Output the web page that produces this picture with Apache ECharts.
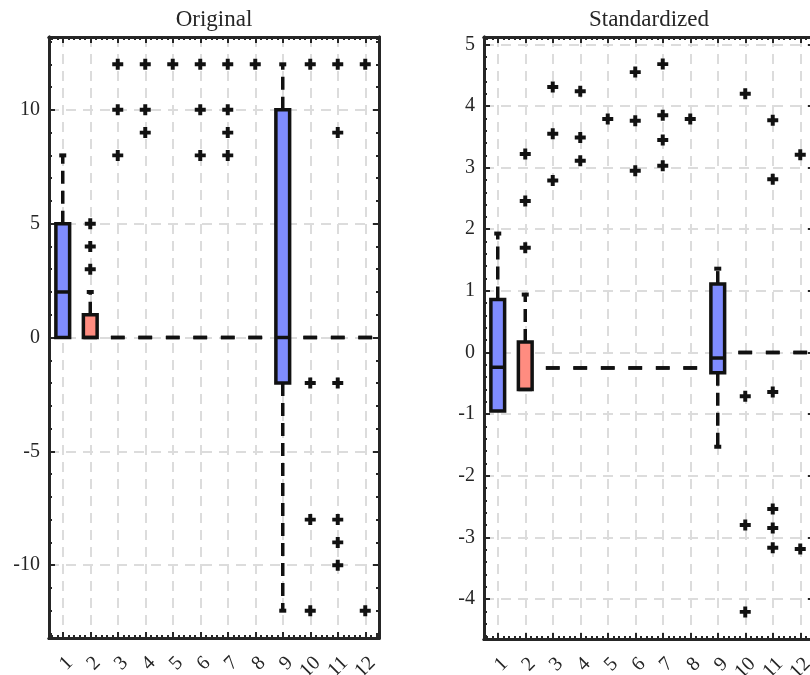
<!DOCTYPE html>
<html>
<head>
<meta charset="utf-8">
<script src="https://cdn.jsdelivr.net/npm/echarts@6/dist/echarts.min.js"></script>
<style>
  html, body { margin: 0; padding: 0; overflow: hidden; background: #fff; }
  #chart { width: 830px; height: 675px; }
</style>
</head>
<body>
<div id="chart"></div>
<script>
const categories = [1, 2, 3, 4, 5, 6, 7, 8, 9, 10, 11, 12]

// "Original" panel: whisker ends, quartiles, medians and outliers per column
const origLow    = [0, 0, 0, 0, 0, 0, 0, 0, -12, 0, 0, 0]
const origQ1     = [0, 0, 0, 0, 0, 0, 0, 0, -2, 0, 0, 0]
const origMedian = [2, 0, 0, 0, 0, 0, 0, 0, 0, 0, 0, 0]
const origQ3     = [5, 1, 0, 0, 0, 0, 0, 0, 10, 0, 0, 0]
const origHigh   = [8, 2, 0, 0, 0, 0, 0, 0, 12, 0, 0, 0]
const origOutliers = [
  [], [3, 4, 5], [8, 10, 12], [9, 10, 12], [12], [8, 10, 12],
  [8, 9, 10, 12], [12], [], [12, -2, -8, -12], [12, 9, -2, -8, -9, -10], [12, -12]
]

// "Standardized" panel
const stdLow    = [-0.95, -0.60, -0.25, -0.25, -0.25, -0.25, -0.25, -0.25, -1.53, 0, 0, 0]
const stdQ1     = [-0.95, -0.60, -0.25, -0.25, -0.25, -0.25, -0.25, -0.25, -0.33, 0, 0, 0]
const stdMedian = [-0.24, -0.60, -0.25, -0.25, -0.25, -0.25, -0.25, -0.25, -0.09, 0, 0, 0]
const stdQ3     = [0.86, 0.17, -0.25, -0.25, -0.25, -0.25, -0.25, -0.25, 1.11, 0, 0, 0]
const stdHigh   = [1.93, 0.94, -0.25, -0.25, -0.25, -0.25, -0.25, -0.25, 1.36, 0, 0, 0]
const stdOutliers = [
  [], [1.70, 2.46, 3.22], [2.79, 3.55, 4.31], [3.11, 3.49, 4.24], [3.79], [2.95, 3.76, 4.55],
  [3.03, 3.45, 3.85, 4.68], [3.79], [], [4.20, -0.71, -2.80, -4.21],
  [3.77, 2.81, -0.64, -2.54, -2.85, -3.17], [3.21, -3.19]
]

const origYTicks = [-10, -5, 0, 5, 10]
const stdYTicks = [-4, -3, -2, -1, 0, 1, 2, 3, 4, 5]

const FONT = "'Liberation Serif', 'DejaVu Serif', serif"
const AXIS = '#262626'
const GRID = '#dcdcdc'
const BLUE = '#7f8cff'
const RED = '#ff8c80'
const BOX_WIDTH = 0.5

function steps (from, to, step, skip) {
  const out = []
  for (let v = from; v <= to + 1e-9; v += step) {
    const r = Math.round(v * 10) / 10
    if (!skip(r)) out.push(r)
  }
  return out
}

const xMinor = steps(0.6, 12.4, 0.2, v => Number.isInteger(v))
const origYMinor = steps(-13, 13, 1, v => v % 5 === 0)
const stdYMinor = steps(-4.6, 5.0, 0.2, v => Number.isInteger(v))
// rotated labels are split over two axes so that ECharts does not drop overlapping neighbours
const oddLabels = categories.filter(c => c % 2 === 1)
const evenLabels = categories.filter(c => c % 2 === 0)

function renderBox (params, api) {
  const x = api.value(0)
  const lo = api.value(1), q1 = api.value(2), med = api.value(3), q3 = api.value(4), hi = api.value(5)
  const half = api.size([BOX_WIDTH, 0])[0] / 2
  const pLo = api.coord([x, lo]), pQ1 = api.coord([x, q1]), pMed = api.coord([x, med])
  const pQ3 = api.coord([x, q3]), pHi = api.coord([x, hi])
  const cx = pQ1[0]
  const whisker = { stroke: '#111', lineWidth: 3.5, lineDash: [13, 7] }
  const cap = { stroke: '#111', lineWidth: 4 }
  const children = []
  if (hi > q3) {
    children.push({ type: 'line', shape: { x1: cx, y1: pQ3[1], x2: cx, y2: pHi[1] }, style: whisker })
    children.push({ type: 'line', shape: { x1: cx - 3.5, y1: pHi[1], x2: cx + 3.5, y2: pHi[1] }, style: cap })
  }
  if (lo < q1) {
    children.push({ type: 'line', shape: { x1: cx, y1: pQ1[1], x2: cx, y2: pLo[1] }, style: whisker })
    children.push({ type: 'line', shape: { x1: cx - 3.5, y1: pLo[1], x2: cx + 3.5, y2: pLo[1] }, style: cap })
  }
  children.push({
    type: 'rect',
    shape: { x: cx - half, y: pQ3[1], width: half * 2, height: pQ1[1] - pQ3[1] },
    style: { fill: params.dataIndex === 1 ? RED : BLUE, stroke: '#111', lineWidth: 3.5 }
  })
  children.push({
    type: 'line',
    shape: { x1: cx - half, y1: pMed[1], x2: cx + half, y2: pMed[1] },
    style: { stroke: '#111', lineWidth: 3.5 }
  })
  return { type: 'group', children }
}

function xLabel (values) {
  return {
    customValues: values, rotate: 45, align: 'right', verticalAlign: 'top',
    margin: 15, fontFamily: FONT, fontSize: 20, color: AXIS,
    showMinLabel: true, showMaxLabel: true, hideOverlap: false
  }
}

function xAxes (gridIndex, title) {
  const base = {
    gridIndex, type: 'value', min: 0.5, max: 12.5,
    axisLine: { onZero: false, lineStyle: { color: AXIS, width: 3 } },
    splitLine: { show: false },
    axisLabel: { show: false }
  }
  return [
    Object.assign({}, base, {
      position: 'bottom',
      axisTick: { inside: true, length: 6, customValues: categories, lineStyle: { color: AXIS, width: 2 } },
      axisLabel: xLabel(oddLabels),
      splitLine: { show: true, lineStyle: { color: GRID, width: 2, type: [10, 7] } }
    }),
    Object.assign({}, base, {
      position: 'bottom',
      axisTick: { inside: true, length: 3, customValues: xMinor, lineStyle: { color: AXIS, width: 2 } },
      axisLabel: xLabel(evenLabels)
    }),
    Object.assign({}, base, {
      position: 'top',
      name: title, nameLocation: 'middle', nameGap: 6,
      nameTextStyle: { fontFamily: FONT, fontSize: 23, color: AXIS },
      axisTick: { inside: true, length: 6, customValues: categories, lineStyle: { color: AXIS, width: 2 } }
    }),
    Object.assign({}, base, {
      position: 'top',
      axisTick: { inside: true, length: 3, customValues: xMinor, lineStyle: { color: AXIS, width: 2 } }
    })
  ]
}

function yAxes (gridIndex, min, max, major, minor) {
  const base = {
    gridIndex, type: 'value', min, max,
    axisLine: { show: true, onZero: false, lineStyle: { color: AXIS, width: 3 } },
    splitLine: { show: false },
    axisLabel: { show: false }
  }
  const tick = (len, values) => ({ inside: true, length: len, customValues: values, lineStyle: { color: AXIS, width: 2 } })
  return [
    Object.assign({}, base, {
      position: 'left',
      axisTick: tick(6, major),
      axisLabel: { customValues: major, margin: 9, fontFamily: FONT, fontSize: 20, color: AXIS },
      splitLine: { show: true, lineStyle: { color: GRID, width: 2, type: [10, 7] } }
    }),
    Object.assign({}, base, { position: 'left', axisTick: tick(3, minor) }),
    Object.assign({}, base, { position: 'right', axisTick: tick(6, major) }),
    Object.assign({}, base, { position: 'right', axisTick: tick(3, minor) })
  ]
}

function boxData (low, q1, median, q3, high) {
  return categories.map((c, i) => [c, low[i], q1[i], median[i], q3[i], high[i]])
}

function outlierData (outliers) {
  return outliers.flatMap((vals, i) => vals.map(v => [categories[i], v]))
}

const PLUS = 'path://M3.2,0H6.8V3.2H10V6.8H6.8V10H3.2V6.8H0V3.2H3.2Z'

const chart = echarts.init(document.getElementById('chart'))
chart.setOption({
  animation: false,
  backgroundColor: '#fff',
  grid: [
    { left: 49, top: 37, width: 330, height: 601, outerBoundsMode: 'none', containLabel: false },
    { left: 484, top: 37, width: 330, height: 602, outerBoundsMode: 'none', containLabel: false }
  ],
  xAxis: xAxes(0, 'Original').concat(xAxes(1, 'Standardized')),
  yAxis: yAxes(0, -13.2, 13.2, origYTicks, origYMinor)
    .concat(yAxes(1, -4.65, 5.12, stdYTicks, stdYMinor)),
  series: [
    {
      type: 'custom', xAxisIndex: 0, yAxisIndex: 0,
      renderItem: renderBox, encode: { x: 0, y: [1, 2, 3, 4, 5] },
      data: boxData(origLow, origQ1, origMedian, origQ3, origHigh)
    },
    {
      type: 'scatter', xAxisIndex: 0, yAxisIndex: 0,
      symbol: PLUS, symbolSize: 11, itemStyle: { color: '#111', opacity: 1 },
      data: outlierData(origOutliers)
    },
    {
      type: 'custom', xAxisIndex: 4, yAxisIndex: 4,
      renderItem: renderBox, encode: { x: 0, y: [1, 2, 3, 4, 5] },
      data: boxData(stdLow, stdQ1, stdMedian, stdQ3, stdHigh)
    },
    {
      type: 'scatter', xAxisIndex: 4, yAxisIndex: 4,
      symbol: PLUS, symbolSize: 11, itemStyle: { color: '#111', opacity: 1 },
      data: outlierData(stdOutliers)
    }
  ]
})
</script>
</body>
</html>
